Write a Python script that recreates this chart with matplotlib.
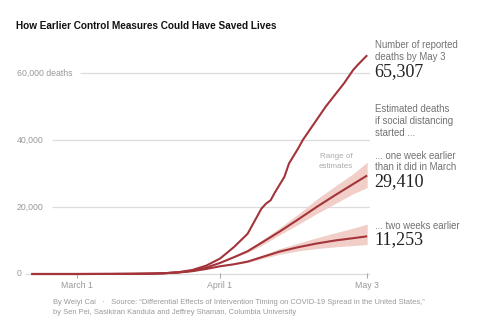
import matplotlib
matplotlib.use("Agg")
import matplotlib.pyplot as plt
import matplotlib.dates as mdates
import pandas as pd

# cumulative reported deaths
reported_dates = ["2020-02-20", "2020-03-01", "2020-03-08", "2020-03-13", "2020-03-17",
                  "2020-03-20", "2020-03-23", "2020-03-26", "2020-03-29", "2020-04-01",
                  "2020-04-04", "2020-04-07", "2020-04-08", "2020-04-10", "2020-04-11",
                  "2020-04-12", "2020-04-13", "2020-04-15", "2020-04-16", "2020-04-18",
                  "2020-04-19", "2020-04-22", "2020-04-24", "2020-04-26", "2020-04-28",
                  "2020-04-30", "2020-05-01", "2020-05-03"]
reported = [0, 1, 20, 50, 110, 250, 550, 1200, 2500, 4600,
            8000, 12000, 14500, 19500, 21000, 22000, 24500, 29000, 33000, 37500,
            40000, 46000, 50000, 53500, 57000, 61000, 62500, 65307]

# model estimates: social distancing one / two weeks earlier
model_dates = ["2020-02-20", "2020-03-01", "2020-03-08", "2020-03-13", "2020-03-17",
               "2020-03-20", "2020-03-23", "2020-03-26", "2020-03-29", "2020-04-01",
               "2020-04-04", "2020-04-07", "2020-04-10", "2020-04-14", "2020-04-18",
               "2020-04-22", "2020-04-26", "2020-04-30", "2020-05-03"]
one_week = [0, 1, 20, 50, 110, 240, 480, 950, 1900, 3300,
            5000, 6800, 9300, 12700, 16300, 20000, 23500, 26900, 29410]
one_week_lo = [0, 1, 20, 50, 110, 240, 480, 950, 1900, 3300,
               4800, 6400, 8500, 11700, 14800, 18000, 21000, 24000, 25800]
one_week_hi = [0, 1, 20, 50, 110, 240, 480, 950, 1900, 3300,
               5200, 7200, 10000, 13800, 17900, 22300, 26200, 30000, 33400]
two_weeks = [0, 1, 20, 50, 110, 230, 450, 850, 1500, 2300,
             2900, 3700, 5000, 6700, 8000, 9100, 10000, 10700, 11253]
two_weeks_lo = [0, 1, 20, 50, 110, 230, 450, 850, 1500, 2300,
                2800, 3400, 4500, 5900, 6900, 7600, 8100, 8500, 8800]
two_weeks_hi = [0, 1, 20, 50, 110, 230, 450, 850, 1500, 2300,
                3000, 4000, 5500, 7600, 9200, 10800, 12300, 13700, 14900]

y_ticks = [0, 20000, 40000, 60000]
y_labels = ["0", "20,000", "40,000", "60,000 deaths"]
x_ticks = ["2020-03-01", "2020-04-01", "2020-05-03"]
x_labels = ["March 1", "April 1", "May 3"]

RED = "#a3343a"
BAND = "#f1cfc8"
GRID = "#dcdcdc"
GREY = "#999999"
NOTE = "#727272"

plt.rcParams["font.family"] = ["Liberation Sans", "DejaVu Sans"]

fig = plt.figure(figsize=(5.0, 3.21), dpi=100)
ax = fig.add_axes([25 / 500, 41 / 321, 345 / 500, 240 / 321])

apr1 = mdates.date2num(pd.Timestamp("2020-04-01"))
px_day = 4.6
x0 = apr1 - 195 / px_day
x1 = apr1 + 150 / px_day
ax.set_xlim(x0, x1)
px_val = 20000 / 67
ax.set_ylim(-6 * px_val, 234 * px_val)
ax.axis("off")

rd = pd.to_datetime(reported_dates)
md = pd.to_datetime(model_dates)
ends = pd.to_datetime(x_ticks)

# gridlines with labels
starts = {0: x0, 20000: apr1 - 168 / px_day,
          40000: apr1 - 168 / px_day, 60000: apr1 - 140 / px_day}
for v, lab in zip(y_ticks, y_labels):
    ax.hlines(v, starts[v], x1, color=GRID, lw=0.9, zorder=1)
    ax.text(-8 / 345, v, lab, transform=ax.get_yaxis_transform(),
            ha="left", va="center", fontsize=6.3, color=GREY)

# x ticks
for d, lab in zip(ends, x_labels):
    ax.vlines(d, -4 * px_val, 1 * px_val, color="#aaaaaa", lw=0.8, zorder=1)
    ax.text(d, -12 * px_val, lab, ha="center", va="center", fontsize=6.3, color=GREY)

ax.fill_between(md, one_week_lo, one_week_hi, color=BAND, lw=0, zorder=2)
ax.fill_between(md, two_weeks_lo, two_weeks_hi, color=BAND, lw=0, zorder=2)
ax.plot(md, two_weeks, color=RED, lw=1.5, zorder=3, solid_capstyle="butt")
ax.plot(md, one_week, color=RED, lw=1.5, zorder=3, solid_capstyle="butt")
ax.plot(rd, reported, color=RED, lw=1.5, zorder=4, solid_capstyle="butt")

# right-hand annotations, positioned in figure pixels
def note(x, y, s, **kw):
    fig.text(x / 500, 1 - y / 321, s, va="center", ha="left", **kw)

SERIF = ["Liberation Serif", "DejaVu Serif"]
note(375, 45, "Number of reported", fontsize=6.9, color=NOTE)
note(375, 57, "deaths by May 3", fontsize=6.9, color=NOTE)
note(374, 72, f"{reported[-1]:,}", fontsize=13, color="#222222", family=SERIF)
note(375, 109, "Estimated deaths", fontsize=6.9, color=NOTE)
note(375, 121, "if social distancing", fontsize=6.9, color=NOTE)
note(375, 133, "started ...", fontsize=6.9, color=NOTE)
note(375, 156, "... one week earlier", fontsize=6.9, color=NOTE)
note(375, 167.5, "than it did in March", fontsize=6.9, color=NOTE)
note(374, 182, f"{one_week[-1]:,}", fontsize=13, color="#222222", family=SERIF)
note(375, 226, "... two weeks earlier", fontsize=6.9, color=NOTE)
note(374, 240, f"{two_weeks[-1]:,}", fontsize=13, color="#222222", family=SERIF)

fig.text(336 / 500, 1 - 157 / 321, "Range of", ha="center", va="center",
         fontsize=5.8, color="#aaaaaa")
fig.text(336 / 500, 1 - 167 / 321, "estimates", ha="center", va="center",
         fontsize=5.8, color="#aaaaaa")

fig.text(16 / 500, 1 - 26 / 321, "How Earlier Control Measures Could Have Saved Lives",
         ha="left", va="center", fontsize=7.2, fontweight="bold", color="#121212")

fig.text(53 / 500, 1 - 303 / 321,
         "By Weiyi Cai   \u00b7   Source: \u201cDifferential Effects of Intervention Timing "
         "on COVID-19 Spread in the United States,\u201d",
         ha="left", va="center", fontsize=5.4, color=GREY)
fig.text(53 / 500, 1 - 313 / 321,
         "by Sen Pei, Sasikiran Kandula and Jeffrey Shaman, Columbia University",
         ha="left", va="center", fontsize=5.4, color=GREY)

fig.savefig("out.png", dpi=100)
